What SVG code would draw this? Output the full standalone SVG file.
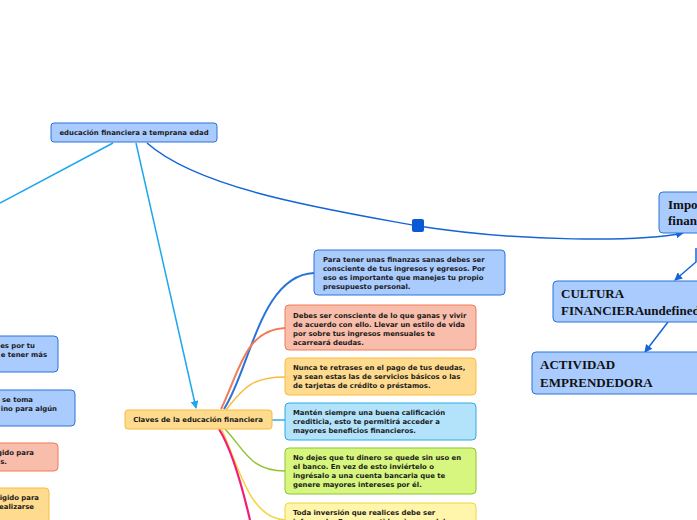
<svg xmlns="http://www.w3.org/2000/svg" width="697" height="520" viewBox="0 0 697 520">
<style>
.t{font-family:"DejaVu Sans",Verdana,sans-serif;font-weight:bold;font-size:6.9px;fill:#1a1a1a}
.s{font-family:"Liberation Serif","Times New Roman",serif;font-weight:bold;font-size:13px;fill:#111}
.blue{fill:#a9cbfd;stroke:#2a73d8;stroke-width:1}
.salmon{fill:#f9bdab;stroke:#f27a58;stroke-width:1}
.orange{fill:#fedb8e;stroke:#f8bb3c;stroke-width:1}
.lblue{fill:#b2e3fa;stroke:#2cabe7;stroke-width:1}
.green{fill:#d6f680;stroke:#8fc531;stroke-width:1}
.yellow{fill:#fff5ab;stroke:#f3d43c;stroke-width:1}
.c{fill:none}
</style>
<defs>
<marker id="ab" markerWidth="8" markerHeight="8" refX="7" refY="4" orient="auto" markerUnits="userSpaceOnUse"><path d="M0,0 L8,4 L0,8 Z" fill="#1565d8"/></marker>
<marker id="alb" markerWidth="8" markerHeight="8" refX="7" refY="4" orient="auto" markerUnits="userSpaceOnUse"><path d="M0,0 L8,4 L0,8 Z" fill="#1ea7ec"/></marker>
</defs>
<g id="connectors" class="c">
<path d="M113,143 L0,203" stroke="#1ea7ec" stroke-width="1.5"/>
<path d="M136,143 L196,408" stroke="#1ea7ec" stroke-width="1.5" marker-end="url(#alb)"/>
<path d="M147,143 C200,190 330,210 418,226 C520,242 640,242 683,233" stroke="#1565d8" stroke-width="1.5" marker-end="url(#ab)"/>
<rect x="412" y="219" width="12" height="13" rx="2" fill="#0a5ad6"/>
<path d="M696,248 L696,262 L675,280" stroke="#1565d8" stroke-width="1.5" marker-end="url(#ab)"/>
<path d="M668,322 L645,352" stroke="#1565d8" stroke-width="1.5" marker-end="url(#ab)"/>
<path d="M224,409 C250,370 260,275 314,273" stroke="#2a73d8" stroke-width="2"/>
<path d="M221,409 C240,370 245,330 285,328" stroke="#f27a58" stroke-width="2"/>
<path d="M226,410 C245,385 255,377 285,377" stroke="#f8bb3c" stroke-width="1.5"/>
<path d="M272,420 L285,420" stroke="#2cabe7" stroke-width="1.5"/>
<path d="M225,429 C245,450 250,471 285,471" stroke="#8fc531" stroke-width="1.5"/>
<path d="M222,430 C240,470 250,518 285,520" stroke="#f0d43a" stroke-width="1.5"/>
<path d="M219,429 C232,450 243,490 250,520" stroke="#f41c78" stroke-width="2.2"/>
</g>
<g id="n-root"><rect class="blue" x="51" y="123" width="166" height="19" rx="3"/><text class="t" x="134" y="135" text-anchor="middle">educación financiera a temprana edad</text></g>
<g id="n-claves"><rect class="orange" x="125" y="410" width="147" height="19" rx="3"/><text class="t" x="198" y="422" text-anchor="middle">Claves de la educación financiera</text></g>
<g id="n-para"><rect class="blue" x="314" y="250" width="191" height="45" rx="4"/><text class="t" x="323" y="262">Para tener unas finanzas sanas debes ser</text><text class="t" x="323" y="271">consciente de tus ingresos y egresos. Por</text><text class="t" x="323" y="280">eso es importante que manejes tu propio</text><text class="t" x="323" y="289">presupuesto personal.</text></g>
<g id="n-debes"><rect class="salmon" x="285" y="305" width="191" height="45" rx="4"/><text class="t" x="293" y="318">Debes ser consciente de lo que ganas y vivir</text><text class="t" x="293" y="327">de acuerdo con ello. Llevar un estilo de vida</text><text class="t" x="293" y="336">por sobre tus ingresos mensuales te</text><text class="t" x="293" y="345">acarreará deudas.</text></g>
<g id="n-nunca"><rect class="orange" x="285" y="358" width="191" height="37" rx="4"/><text class="t" x="293" y="370">Nunca te retrases en el pago de tus deudas,</text><text class="t" x="293" y="379">ya sean estas las de servicios básicos o las</text><text class="t" x="293" y="388">de tarjetas de crédito o préstamos.</text></g>
<g id="n-manten"><rect class="lblue" x="285" y="403" width="191" height="37" rx="4"/><text class="t" x="293" y="415">Mantén siempre una buena calificación</text><text class="t" x="293" y="424">crediticia, esto te permitirá acceder a</text><text class="t" x="293" y="433">mayores beneficios financieros.</text></g>
<g id="n-nodejes"><rect class="green" x="285" y="448" width="191" height="46" rx="4"/><text class="t" x="293" y="460">No dejes que tu dinero se quede sin uso en</text><text class="t" x="293" y="469">el banco. En vez de esto inviértelo o</text><text class="t" x="293" y="478">ingrésalo a una cuenta bancaria que te</text><text class="t" x="293" y="487">genere mayores intereses por él.</text></g>
<g id="n-toda"><rect class="yellow" x="285" y="503" width="191" height="40" rx="4"/><text class="t" x="293" y="515">Toda inversión que realices debe ser</text><text class="t" x="293" y="524">informado. En ese sentido, siempre debes</text></g>
<g id="n-imp"><rect class="blue" x="659" y="192" width="60" height="41" rx="4"/><text class="s" x="668" y="209">Importancia de</text><text class="s" x="668" y="225">financiera</text></g>
<g id="n-cultura"><rect class="blue" x="553" y="281" width="160" height="41" rx="4"/><text class="s" x="561" y="298">CULTURA</text><text class="s" x="561" y="315">FINANCIERAundefined</text></g>
<g id="n-actividad"><rect class="blue" x="532" y="352" width="180" height="42" rx="4"/><text class="s" x="540" y="369">ACTIVIDAD</text><text class="s" x="540" y="387">EMPRENDEDORA</text></g>
<g id="n-l1"><rect class="blue" x="-140" y="336" width="198" height="36" rx="4"/><text class="t" x="35" y="348" text-anchor="end">es por tu</text><text class="t" x="47" y="357" text-anchor="end">e tener más</text></g>
<g id="n-l2"><rect class="blue" x="-120" y="390" width="195" height="36" rx="4"/><text class="t" x="33" y="402" text-anchor="end">se toma</text><text class="t" x="57" y="411" text-anchor="end">ino para algún</text></g>
<g id="n-l3"><rect class="salmon" x="-140" y="443" width="198" height="28" rx="4"/><text class="t" x="34" y="455" text-anchor="end">gido para</text><text class="t" x="7" y="464" text-anchor="end">s.</text></g>
<g id="n-l4"><rect class="orange" x="-150" y="488" width="199" height="50" rx="4"/><text class="t" x="39" y="500" text-anchor="end">igido para</text><text class="t" x="34" y="509" text-anchor="end">ealizarse</text></g>
</svg>
